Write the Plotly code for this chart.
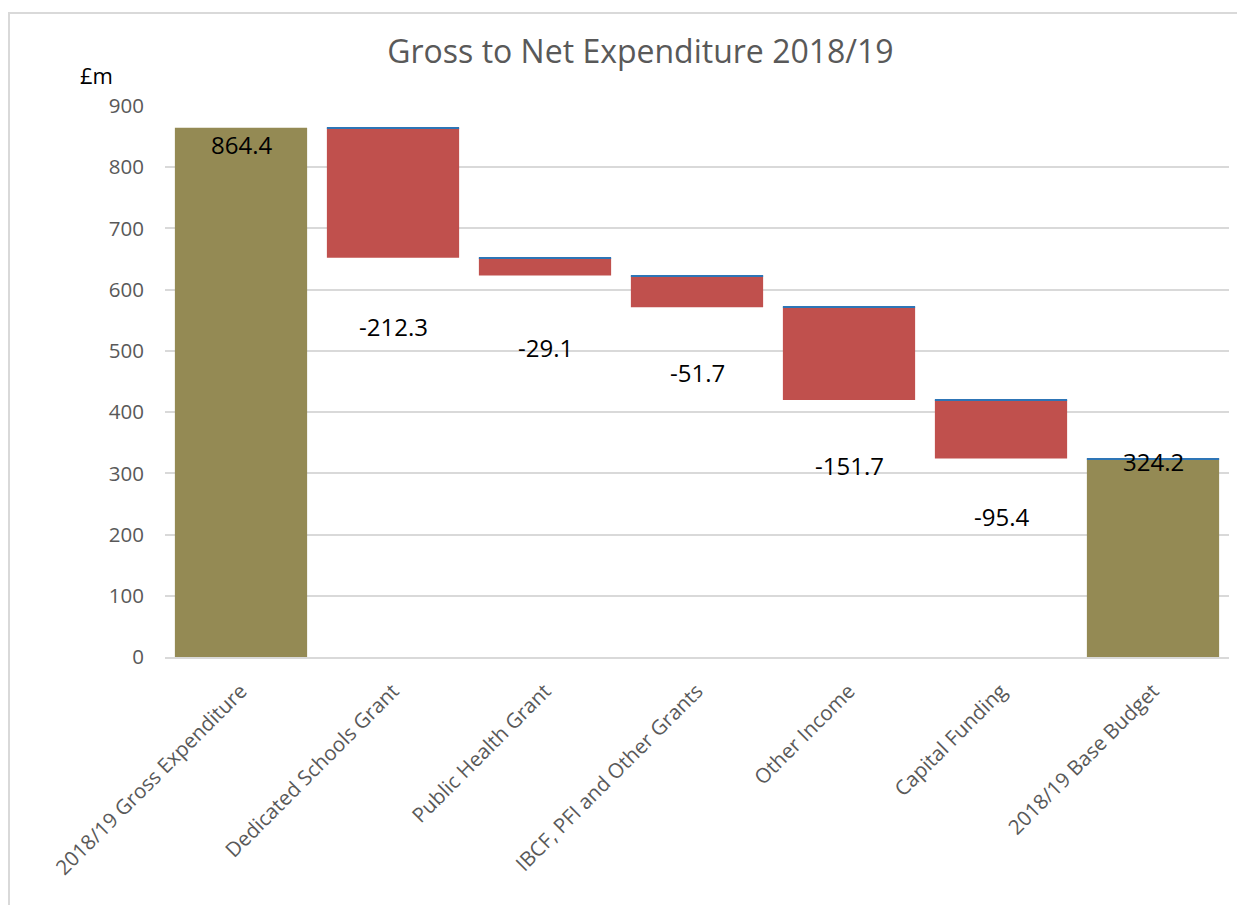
import plotly.graph_objects as go

categories = ["2018/19 Gross Expenditure", "Dedicated Schools Grant", "Public Health Grant",
              "IBCF, PFI and Other Grants", "Other Income", "Capital Funding", "2018/19 Base Budget"]
values = [864.4, -212.3, -29.1, -51.7, -151.7, -95.4, 324.2]
is_total = [True, False, False, False, False, False, True]
label_shift_px = [-17, -69, -72, -65, -65, -58, -3]
y_ticks = [0, 100, 200, 300, 400, 500, 600, 700, 800, 900]

OLIVE = "#948A54"
RED = "#C0504D"
BLUE = "#2E75B6"
GREY = "#595959"
FONT = "Open Sans"

# compute floating bar bases/tops from the running total
bases, heights, colors, tops, bottoms = [], [], [], [], []
running = 0.0
for v, tot in zip(values, is_total):
    if tot:
        b, h = 0.0, v
        running = v
        colors.append(OLIVE)
    else:
        b, h = running + v, -v
        running = running + v
        colors.append(RED)
    bases.append(b)
    heights.append(h)
    tops.append(b + h)
    bottoms.append(b)

fig = go.Figure()
fig.add_trace(go.Bar(x=categories, y=heights, base=bases, marker=dict(color=colors, line=dict(width=0)),
                     hoverinfo="skip", showlegend=False))

# thin blue top edges on change bars and final total
n = len(categories)
edge_idx = [i for i in range(n) if (not is_total[i]) or i == n - 1]
fig.add_trace(go.Bar(x=[categories[i] for i in edge_idx], y=[1.8] * len(edge_idx),
                     base=[tops[i] - 0.9 for i in edge_idx],
                     marker=dict(color=BLUE, line=dict(width=0)), hoverinfo="skip", showlegend=False))

for i, (c, v, tot) in enumerate(zip(categories, values, is_total)):
    anchor_y = tops[i] if tot else bottoms[i]
    fig.add_annotation(x=c, y=anchor_y, text=f"{v:.1f}", showarrow=False, yshift=label_shift_px[i],
                       font=dict(family=FONT, size=24, color="#000000"), yanchor="middle")

fig.add_annotation(xref="paper", yref="paper", x=-0.064, y=1.056, text="£m", showarrow=False,
                   font=dict(family=FONT, size=22, color="#000000"), xanchor="center", yanchor="middle")

fig.add_shape(type="rect", xref="paper", yref="paper", x0=-0.1466, x1=1.05, y0=-0.5, y1=1.1688,
              line=dict(color="#D9D9D9", width=2), fillcolor="rgba(0,0,0,0)", layer="below")

fig.update_layout(
    width=1245, height=905,
    margin=dict(l=157, r=24, t=98, b=256),
    paper_bgcolor="white", plot_bgcolor="white",
    barmode="overlay", bargap=0.13,
    title=dict(text="Gross to Net Expenditure 2018/19", x=0.508, xanchor="center", y=0.952, yanchor="middle",
               font=dict(family=FONT, size=32, color=GREY)),
    font=dict(family=FONT, color=GREY),
    xaxis=dict(tickangle=-45, tickfont=dict(family=FONT, size=20.5, color=GREY), showgrid=False,
               showline=True, linecolor="#D9D9D9", linewidth=2, ticks="", ticklabelstandoff=12),
    yaxis=dict(range=[0, 900], tickvals=y_ticks, tickfont=dict(family=FONT, size=20.5, color=GREY),
               showgrid=True, gridcolor="#D9D9D9", gridwidth=2, zeroline=False, showline=False,
               ticks="", ticklabelstandoff=20),
)

fig.write_html("out.html")
